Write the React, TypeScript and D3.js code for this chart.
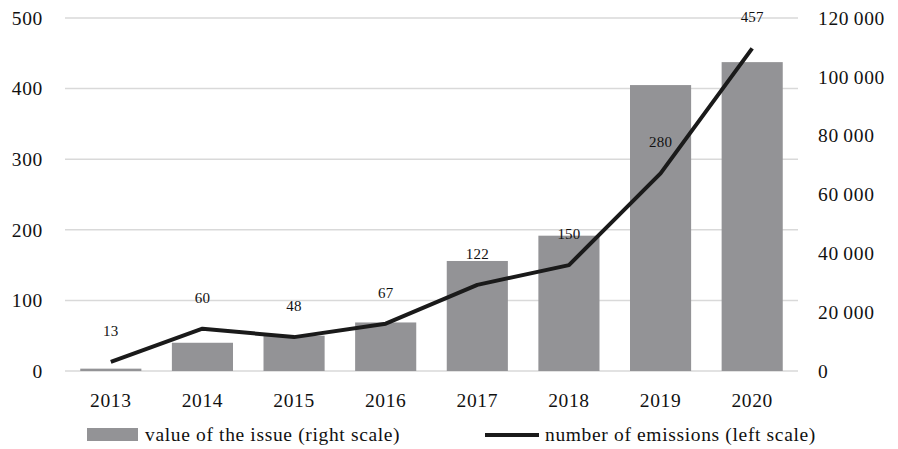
import React, { useEffect, useRef } from 'react';
import * as d3 from 'd3';

const years = ['2013', '2014', '2015', '2016', '2017', '2018', '2019', '2020'];
// number of emissions (left scale)
const emissions = [13, 60, 48, 67, 122, 150, 280, 457];
// value of the issue (right scale)
const issueValue = [800, 9600, 12000, 16500, 37400, 46000, 97200, 105000];
const leftTicks = [0, 100, 200, 300, 400, 500];
const rightTicks = [0, 20000, 40000, 60000, 80000, 100000, 120000];

export default function App() {
  const chartRef = useRef(null);

  useEffect(() => {
    const width = 898;
    const height = 449;
    const margin = { top: 18, right: 100, bottom: 78, left: 65 };
    const font = '"Liberation Serif", "Times New Roman", serif';

    const svg = d3.select(chartRef.current);
    svg.selectAll('*').remove();
    svg.attr('width', width).attr('height', height);

    const x = d3.scaleBand()
      .domain(years)
      .range([margin.left, width - margin.right])
      .paddingInner(0.333)
      .paddingOuter(0.1665);

    const yL = d3.scaleLinear().domain([0, 500]).range([height - margin.bottom, margin.top]);
    const yR = d3.scaleLinear().domain([0, 120000]).range([height - margin.bottom, margin.top]);

    const styleBig = (sel) => sel
      .style('font-family', font)
      .style('font-size', '19.5px')
      .style('letter-spacing', '0.65px')
      .attr('fill', '#111');

    // gridlines
    svg.append('g')
      .selectAll('line')
      .data(leftTicks)
      .enter().append('line')
      .attr('x1', margin.left)
      .attr('x2', width - margin.right)
      .attr('y1', d => yL(d))
      .attr('y2', d => yL(d))
      .attr('stroke', '#d9d9d9')
      .attr('stroke-width', 1.5);

    // bars
    svg.selectAll('.bar')
      .data(issueValue)
      .enter().append('rect')
      .attr('class', 'bar')
      .attr('x', (d, i) => x(years[i]))
      .attr('y', d => yR(d))
      .attr('width', x.bandwidth())
      .attr('height', d => yR(0) - yR(d))
      .attr('fill', '#939396');

    // line
    const line = d3.line<number>()
      .x((d, i) => x(years[i]) + x.bandwidth() / 2)
      .y(d => yL(d));

    svg.append('path')
      .datum(emissions)
      .attr('d', line)
      .attr('fill', 'none')
      .attr('stroke', '#1a1a1a')
      .attr('stroke-width', 4)
      .attr('stroke-linejoin', 'round');

    // data labels
    svg.selectAll('.lbl')
      .data(emissions)
      .enter().append('text')
      .attr('class', 'lbl')
      .attr('x', (d, i) => x(years[i]) + x.bandwidth() / 2)
      .attr('y', d => yL(d) - 26)
      .attr('text-anchor', 'middle')
      .style('font-family', font)
      .style('font-size', '15px')
      .style('letter-spacing', '0.2px')
      .attr('fill', '#111')
      .text(d => d);

    // left axis
    const axisL = d3.axisLeft(yL).tickValues(leftTicks).tickSize(0).tickPadding(22);
    const gL = svg.append('g')
      .attr('transform', 'translate(' + margin.left + ',0)')
      .call(axisL);
    gL.select('.domain').remove();
    styleBig(gL.selectAll('text'));

    // right axis
    const fmt = (d) => d3.format(',')(d).replace(/,/g, '\u2009');
    const axisR = d3.axisRight(yR).tickValues(rightTicks).tickSize(0).tickPadding(20).tickFormat(fmt);
    const gR = svg.append('g')
      .attr('transform', 'translate(' + (width - margin.right) + ',0)')
      .call(axisR);
    gR.select('.domain').remove();
    styleBig(gR.selectAll('text'));

    // bottom axis
    const axisB = d3.axisBottom(x).tickSize(0).tickPadding(22);
    const gB = svg.append('g')
      .attr('transform', 'translate(0,' + yL(0) + ')')
      .call(axisB);
    gB.select('.domain').remove();
    styleBig(gB.selectAll('text'));

    // legend
    const lg = svg.append('g');
    lg.append('rect')
      .attr('x', 87).attr('y', 428)
      .attr('width', 51).attr('height', 13)
      .attr('fill', '#939396');
    styleBig(lg.append('text')
      .attr('x', 145).attr('y', 441)
      .text('value of the issue (right scale)'));
    lg.append('line')
      .attr('x1', 485).attr('x2', 539)
      .attr('y1', 435).attr('y2', 435)
      .attr('stroke', '#1a1a1a')
      .attr('stroke-width', 4);
    styleBig(lg.append('text')
      .attr('x', 545).attr('y', 441)
      .text('number of emissions (left scale)'));
  }, []);

  return (
    <svg ref={chartRef} style={{ position: 'absolute', left: 0, top: 0 }} />
  );
}
